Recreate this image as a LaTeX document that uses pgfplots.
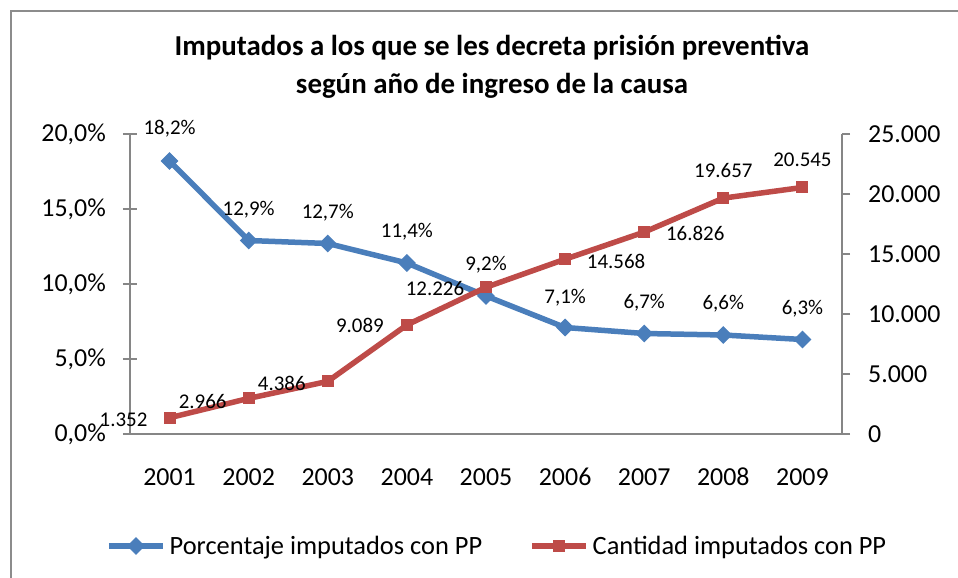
\documentclass[border=0pt]{standalone}
\usepackage{fontspec}
\setmainfont{Carlito}
\usepackage{pgfplots}
\pgfplotsset{compat=1.18}
\usepackage{pgfplotstable}

\definecolor{cblue}{RGB}{74,126,187}
\definecolor{cred}{RGB}{190,75,72}
\definecolor{cax}{RGB}{134,134,134}
\definecolor{cborder}{RGB}{140,140,140}

% x  value  label-offset (dx, dy in px)
\pgfplotstableread{
x y dx dy
0 18.2 0 32
1 12.9 0 31
2 12.7 0 31
3 11.4 0 31
4 9.2 0 31
5 7.1 0 30
6 6.7 0 31
7 6.6 0 31
8 6.3 0 31
}\bluetab

\pgfplotstableread{
x y dx dy
0 1352 -46 -2
1 2966 -46 -3
2 4386 -46 -2
3 9089 -47 -1
4 12226 -51 -1
5 14568 51 -2
6 16826 51 -1
7 19657 0 28
8 20545 0 28
}\redtab

\pgfplotsset{
  common/.style={
    at={(130bp,144bp)}, anchor=south west,
    scale only axis, width=712bp, height=300bp,
    xmin=-0.5, xmax=8.5, clip=false,
    /pgf/number format/assume math mode=true,
    axis line style={cax, line width=2bp, -},
    every tick/.style={cax, line width=2bp},
    tick label style={font=\fontsize{26}{30}\selectfont, inner sep=0pt},
  },
  lbl/.style={
    nodes near coords align={anchor=center},
    visualization depends on={\thisrow{dx} \as \dx},
    visualization depends on={\thisrow{dy} \as \dy},
    nodes near coords style={anchor=center, inner sep=0pt, text=black,
      font=\fontsize{21}{25}\selectfont, xshift=\dx bp, yshift=\dy bp},
  },
}

\begin{document}
\begin{tikzpicture}
\useasboundingbox (0,0) rectangle (958bp,578bp);
\draw[cborder, line width=2bp] (11bp,-30bp) rectangle (1000bp,567bp);

\node[font=\fontsize{29}{38}\selectfont\bfseries, align=center] at (492bp,511bp)
  {Imputados a los que se les decreta prisión preventiva\\según año de ingreso de la causa};

\begin{axis}[common,
  ymin=0, ymax=20, ytick={0,5,...,20},
  axis x line*=bottom, axis y line*=left,
  xtick={0,...,8}, xticklabels={2001,2002,2003,2004,2005,2006,2007,2008,2009},
  x tick style={draw=none},
  xticklabel style={anchor=north, yshift=-27bp},
  tick align=center, major tick length=14bp,
  yticklabel={\pgfmathprintnumber[fixed,fixed zerofill,precision=1,use comma]{\tick}\%},
  yticklabel style={anchor=east, xshift=-17bp},
  legend style={at={(-0.0337,-0.3733)}, anchor=west, draw=none, fill=none,
    inner sep=0pt, legend columns=2,
    font=\fontsize{26.5}{30}\selectfont,
    nodes={inner sep=0pt},
    /tikz/every odd column/.append style={column sep=4bp},
    /tikz/every even column/.append style={column sep=47bp}},
  legend image code/.code={\draw[mark repeat=2,mark phase=2,#1] plot coordinates {(0bp,0bp) (27bp,0bp) (54bp,0bp)};},
]
\addplot[cblue, line width=5.5bp, mark=square*, mark size=5.8bp,
  mark options={rotate=45, line width=1bp, solid},
  lbl, nodes near coords={\pgfmathprintnumber[fixed,fixed zerofill,precision=1,use comma]{\pgfplotspointmeta}\%},
  point meta=y] table[x=x,y=y] {\bluetab};
\addlegendentry{Porcentaje imputados con PP}
\addlegendimage{cred, line width=5.5bp, mark=square*, mark size=5.5bp, mark options={line width=1bp, solid}}
\addlegendentry{Cantidad imputados con PP}
\end{axis}

\begin{axis}[common,
  ymin=0, ymax=25000, ytick={0,5000,...,25000},
  axis x line=none, axis y line*=right,
  scaled y ticks=false,
  tick align=outside, major tick length=8bp,
  yticklabel={\pgfmathprintnumber[fixed,precision=0,1000 sep={.}]{\tick}},
  yticklabel style={anchor=west, xshift=18bp},
]
\addplot[cred, line width=5.5bp, mark=square*, mark size=5.5bp,
  mark options={line width=1bp, solid},
  lbl, nodes near coords={\pgfmathprintnumber[fixed,precision=0,1000 sep={.}]{\pgfplotspointmeta}},
  point meta=y] table[x=x,y=y] {\redtab};
\end{axis}
\end{tikzpicture}
\end{document}
